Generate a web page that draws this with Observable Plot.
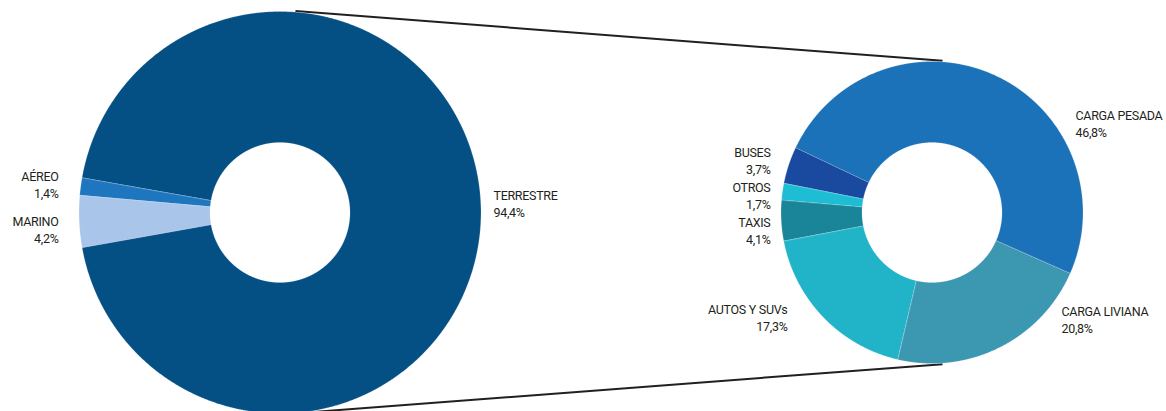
<!DOCTYPE html>
<html><head><meta charset="utf-8">
<script src="https://cdn.jsdelivr.net/npm/d3@7"></script>
<script src="https://cdn.jsdelivr.net/npm/@observablehq/plot@0.6"></script>
<style>
html,body{margin:0;padding:0;background:#fff;}
#chart svg{display:block;font-family:Roboto,"Open Sans",sans-serif;}
#chart svg text{letter-spacing:-0.3px;}
</style>
</head><body><div id="chart"></div>
<script>
// ---- data ----
const modeCategories = ["MARINO", "AÉREO", "TERRESTRE"];
const modeValues = [4.2, 1.4, 94.4];
const modeLabels = ["4,2%", "1,4%", "94,4%"];
const modeColors = ["#a9c6ea", "#1e76bf", "#044f84"];

const landCategories = ["CARGA PESADA", "CARGA LIVIANA", "AUTOS Y SUVs", "TAXIS", "OTROS", "BUSES"];
const landValues = [46.8, 20.8, 17.3, 4.1, 1.7, 3.7];
const landLabels = ["46,8%", "20,8%", "17,3%", "4,1%", "1,7%", "3,7%"];
const landColors = ["#1b72b9", "#3c97b1", "#21b4c8", "#1a8599", "#1dbdd4", "#1a4aa0"];

// ---- layout ----
const W = 1166, H = 411;
const deg = Math.PI / 180;
const leftPie = {cx: 279.5, cy: 212, r0: 70, r1: 201, start: 259.9 * deg};
const rightPie = {cx: 931.5, cy: 212, r0: 70, r1: 151, start: -64.6 * deg};
const labelPos = {
  "AÉREO": {x: 58, b: 180.7, anchor: "end"},
  "MARINO": {x: 58, b: 225, anchor: "end"},
  "TERRESTRE": {x: 493, b: 199.3, anchor: "start"},
  "CARGA PESADA": {x: 1075, b: 119.3, anchor: "start"},
  "CARGA LIVIANA": {x: 1061, b: 315, anchor: "start"},
  "AUTOS Y SUVs": {x: 787, b: 313.3, anchor: "end"},
  "TAXIS": {x: 770, b: 226.7, anchor: "end"},
  "OTROS": {x: 770, b: 191.7, anchor: "end"},
  "BUSES": {x: 770, b: 156, anchor: "end"}
};

function slicePoints(cats, vals, cfg) {
  const arcs = d3.pie().sort(null).startAngle(cfg.start).endAngle(cfg.start + 2 * Math.PI)(vals);
  const pts = [];
  arcs.forEach((a, i) => {
    const n = Math.max(4, Math.ceil((a.endAngle - a.startAngle) / 0.004));
    for (let k = 0; k <= n; k++) {
      const t = a.startAngle + (a.endAngle - a.startAngle) * k / n;
      pts.push({cat: cats[i], x: cfg.cx + cfg.r1 * Math.sin(t), y: cfg.cy - cfg.r1 * Math.cos(t)});
    }
    for (let k = n; k >= 0; k--) {
      const t = a.startAngle + (a.endAngle - a.startAngle) * k / n;
      pts.push({cat: cats[i], x: cfg.cx + cfg.r0 * Math.sin(t), y: cfg.cy - cfg.r0 * Math.cos(t)});
    }
  });
  return pts;
}

const pts = slicePoints(modeCategories, modeValues, leftPie)
  .concat(slicePoints(landCategories, landValues, rightPie));

const labels = modeCategories.map((c, i) => ({cat: c, text: c + "\n" + modeLabels[i]}))
  .concat(landCategories.map((c, i) => ({cat: c, text: c + "\n" + landLabels[i]})));
labels.forEach(d => { const p = labelPos[d.cat]; d.x = p.x; d.y = p.b - 11.9; d.anchor = p.anchor; });

function polar(cfg, a) { return [cfg.cx + cfg.r1 * Math.sin(a), cfg.cy - cfg.r1 * Math.cos(a)]; }
const lt = polar(leftPie, 4.4 * deg), rt = polar(rightPie, 4 * deg);
const lb = polar(leftPie, 171.3 * deg), rb = polar(rightPie, 176 * deg);
const connectors = [
  {x1: lt[0], y1: lt[1] - 1, x2: rt[0], y2: rt[1] - 1},
  {x1: lb[0], y1: lb[1] + 1, x2: rb[0], y2: rb[1] + 1}
];

const chart = Plot.plot({
  width: W, height: H, margin: 0,
  x: {domain: [0, W], range: [0, W], axis: null},
  y: {domain: [0, H], range: [0, H], axis: null},
  color: {domain: modeCategories.concat(landCategories), range: modeColors.concat(landColors)},
  marks: [
    Plot.link(connectors, {x1: "x1", y1: "y1", x2: "x2", y2: "y2", stroke: "#231f20", strokeWidth: 2}),
    Plot.line(pts, {x: "x", y: "y", z: "cat", fill: "cat", stroke: "#ffffff", strokeWidth: 0.5, strokeOpacity: 0.4, curve: "linear-closed"}),
    Plot.text(labels.filter(d => d.anchor === "end"), {x: "x", y: "y", text: "text", textAnchor: "end", lineAnchor: "top", lineHeight: 1.36, fontSize: 12.5, fill: "#231f20"}),
    Plot.text(labels.filter(d => d.anchor === "start"), {x: "x", y: "y", text: "text", textAnchor: "start", lineAnchor: "top", lineHeight: 1.36, fontSize: 12.5, fill: "#231f20"})
  ]
});
document.getElementById("chart").appendChild(chart);
</script>
</body></html>
